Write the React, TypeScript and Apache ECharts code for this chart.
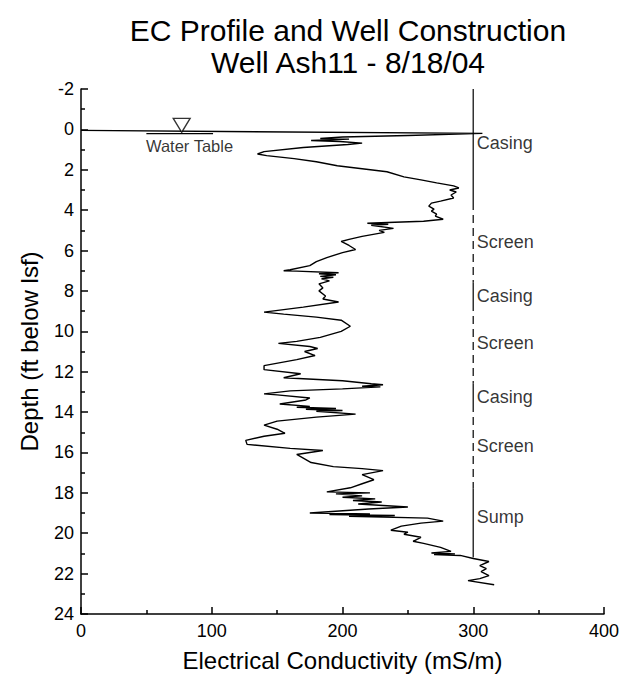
import React, { useEffect, useRef } from "react";
import * as echarts from "echarts";

const titleLines = ["EC Profile and Well Construction", "Well Ash11 - 8/18/04"];
const xAxisName = "Electrical Conductivity (mS/m)";
const yAxisName = "Depth (ft below lsf)";

// EC profile: [conductivity mS/m, depth ft]
const profile: [number, number][] = [
  [0, 0.05], [307, 0.2], [250, 0.3], [200, 0.38], [183, 0.45], [205, 0.48], [176, 0.55], [198, 0.6],
  [215, 0.68], [204, 0.75], [170, 0.9], [140, 1.1], [135, 1.22], [142, 1.3], [163, 1.45], [180, 1.6],
  [196, 1.8], [215, 1.95], [234, 2.1], [247, 2.35], [260, 2.5], [272, 2.65], [285, 2.8], [289, 2.9],
  [282, 3.0], [287, 3.1], [283, 3.25], [285, 3.4], [275, 3.55], [268, 3.65], [266, 3.8], [270, 3.95],
  [268, 4.05], [272, 4.2], [271, 4.3], [277, 4.45], [262, 4.55], [240, 4.6], [219, 4.65], [235, 4.7],
  [222, 4.75], [239, 4.9], [228, 5.0], [232, 5.1], [215, 5.3], [205, 5.45], [199, 5.55], [205, 5.75],
  [210, 5.95], [200, 6.1], [188, 6.35], [180, 6.55], [175, 6.75], [160, 6.95], [155, 7.0], [165, 7.02],
  [197, 7.1], [182, 7.15], [195, 7.2], [183, 7.28], [193, 7.32], [184, 7.4], [190, 7.5], [182, 7.65],
  [185, 7.85], [182, 8.0], [187, 8.25], [185, 8.4], [197, 8.55], [170, 8.8], [140, 9.05], [155, 9.15],
  [180, 9.3], [199, 9.45], [206, 9.75], [199, 10.0], [183, 10.3], [165, 10.5], [151, 10.6], [175, 10.75],
  [181, 10.85], [171, 11.0], [179, 11.2], [165, 11.4], [140, 11.7], [140, 11.9], [168, 12.1], [155, 12.3],
  [200, 12.45], [222, 12.6], [231, 12.65], [215, 12.72], [229, 12.75], [200, 12.85], [160, 12.95],
  [140, 13.1], [150, 13.15], [175, 13.3], [172, 13.4], [152, 13.6], [175, 13.72], [165, 13.76],
  [195, 13.82], [172, 13.86], [200, 13.92], [180, 13.96], [210, 14.1], [180, 14.25], [150, 14.45],
  [140, 14.65], [150, 14.85], [156, 15.05], [140, 15.2], [126, 15.4], [127, 15.6], [160, 15.8],
  [185, 15.9], [165, 16.1], [172, 16.35], [176, 16.5], [193, 16.7], [215, 16.8], [231, 16.9],
  [215, 17.1], [224, 17.35], [215, 17.55], [206, 17.75], [188, 17.95], [221, 18.0], [195, 18.05],
  [215, 18.15], [200, 18.22], [225, 18.3], [208, 18.38], [230, 18.45], [212, 18.55], [250, 18.7],
  [220, 18.8], [175, 19.0], [221, 19.04], [190, 19.08], [240, 19.12], [205, 19.16], [265, 19.25],
  [277, 19.4], [260, 19.5], [245, 19.65], [237, 19.85], [250, 19.95], [247, 20.05], [260, 20.2],
  [254, 20.4], [262, 20.5], [275, 20.7], [283, 20.9], [268, 20.98], [286, 21.02], [270, 21.06],
  [290, 21.1], [300, 21.25], [312, 21.4], [305, 21.6], [310, 21.75], [306, 21.9], [312, 22.1],
  [305, 22.25], [296, 22.35], [316, 22.55],
];

const wellX = 300;
const wellSectionTops = [-2, 3.6, 7.6, 8.6, 12.6, 13.6, 17.8];
const wellSectionBottoms = [3.6, 7.6, 8.6, 12.6, 13.6, 17.8, 21.2];
const wellSectionDashed = [false, true, false, true, false, true, false];
const wellLabels = ["Casing", "Screen", "Casing", "Screen", "Casing", "Screen", "Sump"];
const wellLabelDepths = [0.65, 5.6, 8.24, 10.57, 13.25, 15.68, 19.2];

const waterTableMarker: [number, number] = [77, -0.2];
const waterTableUnderline: [number, number][] = [[50, 0.21], [101, 0.21]];
const waterTableLabelPos: [number, number] = [83, 0.8];
const waterTableLabel = "Water Table";

const FONT = "'Liberation Sans', Arial, Helvetica, sans-serif";

export default function App() {
  const ref = useRef<HTMLDivElement>(null);
  useEffect(() => {
    document.body.style.margin = "0";
    if (!ref.current) return;
    const chart = echarts.init(ref.current, undefined, { renderer: "svg" });

    const wellSeries = wellSectionTops.map((top, i) => ({
      type: "line",
      data: [[wellX, top], [wellX, wellSectionBottoms[i]]],
      symbol: "none",
      silent: true,
      lineStyle: {
        color: "#333",
        width: 1.5,
        type: wellSectionDashed[i] ? [8, 5] : "solid",
      },
      z: 2,
    }));

    chart.setOption({
      animation: false,
      backgroundColor: "#fff",
      textStyle: { fontFamily: FONT },
      title: [
        {
          text: titleLines[0],
          left: 343,
          top: 10,
          textAlign: "center",
          textStyle: { fontSize: 30, fontWeight: "normal", color: "#000", fontFamily: FONT },
        },
        {
          text: titleLines[1],
          left: 343,
          top: 42,
          textAlign: "center",
          textStyle: { fontSize: 30, fontWeight: "normal", color: "#000", fontFamily: FONT },
        },
      ],
      grid: { left: 81, right: 22, top: 89, bottom: 62, containLabel: false },
      xAxis: {
        type: "value",
        min: 0,
        max: 400,
        interval: 100,
        name: xAxisName,
        nameLocation: "middle",
        nameGap: 34,
        nameTextStyle: { fontSize: 24, color: "#000", fontFamily: FONT },
        axisLine: { onZero: false, lineStyle: { color: "#000", width: 1.5 } },
        axisTick: { inside: true, length: 7, lineStyle: { color: "#000", width: 1.5 } },
        minorTick: { show: true, splitNumber: 2, length: 4, lineStyle: { color: "#000", width: 1.5 } },
        axisLabel: { fontSize: 18, color: "#000", margin: 8, fontFamily: FONT },
        splitLine: { show: false },
      },
      yAxis: {
        type: "value",
        min: -2,
        max: 24,
        interval: 2,
        inverse: true,
        name: yAxisName,
        nameLocation: "middle",
        nameRotate: 90,
        nameGap: 40,
        nameTextStyle: { fontSize: 24, color: "#000", fontFamily: FONT },
        axisLine: { show: true, onZero: false, lineStyle: { color: "#000", width: 1.5 } },
        axisTick: { show: true, inside: true, length: 7, lineStyle: { color: "#000", width: 1.5 } },
        minorTick: { show: true, splitNumber: 2, length: 4, lineStyle: { color: "#000", width: 1.5 } },
        axisLabel: { fontSize: 18, color: "#000", margin: 7, fontFamily: FONT },
        splitLine: { show: false },
      },
      series: [
        {
          type: "line",
          data: profile,
          symbol: "none",
          silent: true,
          lineStyle: { color: "#000", width: 1.4 },
          z: 3,
        },
        ...wellSeries,
        {
          type: "scatter",
          data: wellLabels.map((name, i) => ({ name, value: [wellX, wellLabelDepths[i]] })),
          symbolSize: 1,
          itemStyle: { color: "rgba(0,0,0,0)" },
          silent: true,
          label: {
            show: true,
            position: "right",
            distance: 3,
            formatter: (p: any) => p.name,
            fontSize: 18,
            color: "#000",
            fontFamily: FONT,
          },
          z: 4,
        },
        {
          type: "line",
          data: waterTableUnderline,
          symbol: "none",
          silent: true,
          lineStyle: { color: "#000", width: 1.3 },
          z: 3,
        },
        {
          type: "scatter",
          data: [waterTableMarker],
          symbol: "triangle",
          symbolRotate: 180,
          symbolSize: [17, 14],
          silent: true,
          itemStyle: { color: "#fff", borderColor: "#000", borderWidth: 1.3 },
          z: 5,
        },
        {
          type: "scatter",
          data: [{ name: waterTableLabel, value: waterTableLabelPos }],
          symbolSize: 1,
          silent: true,
          itemStyle: { color: "rgba(0,0,0,0)" },
          label: {
            show: true,
            position: "inside",
            formatter: (p: any) => p.name,
            fontSize: 16.5,
            color: "#000",
            fontFamily: FONT,
          },
          z: 5,
        },
      ],
    });
    return () => chart.dispose();
  }, []);
  return <div ref={ref} style={{ width: 626, height: 677 }} />;
}
